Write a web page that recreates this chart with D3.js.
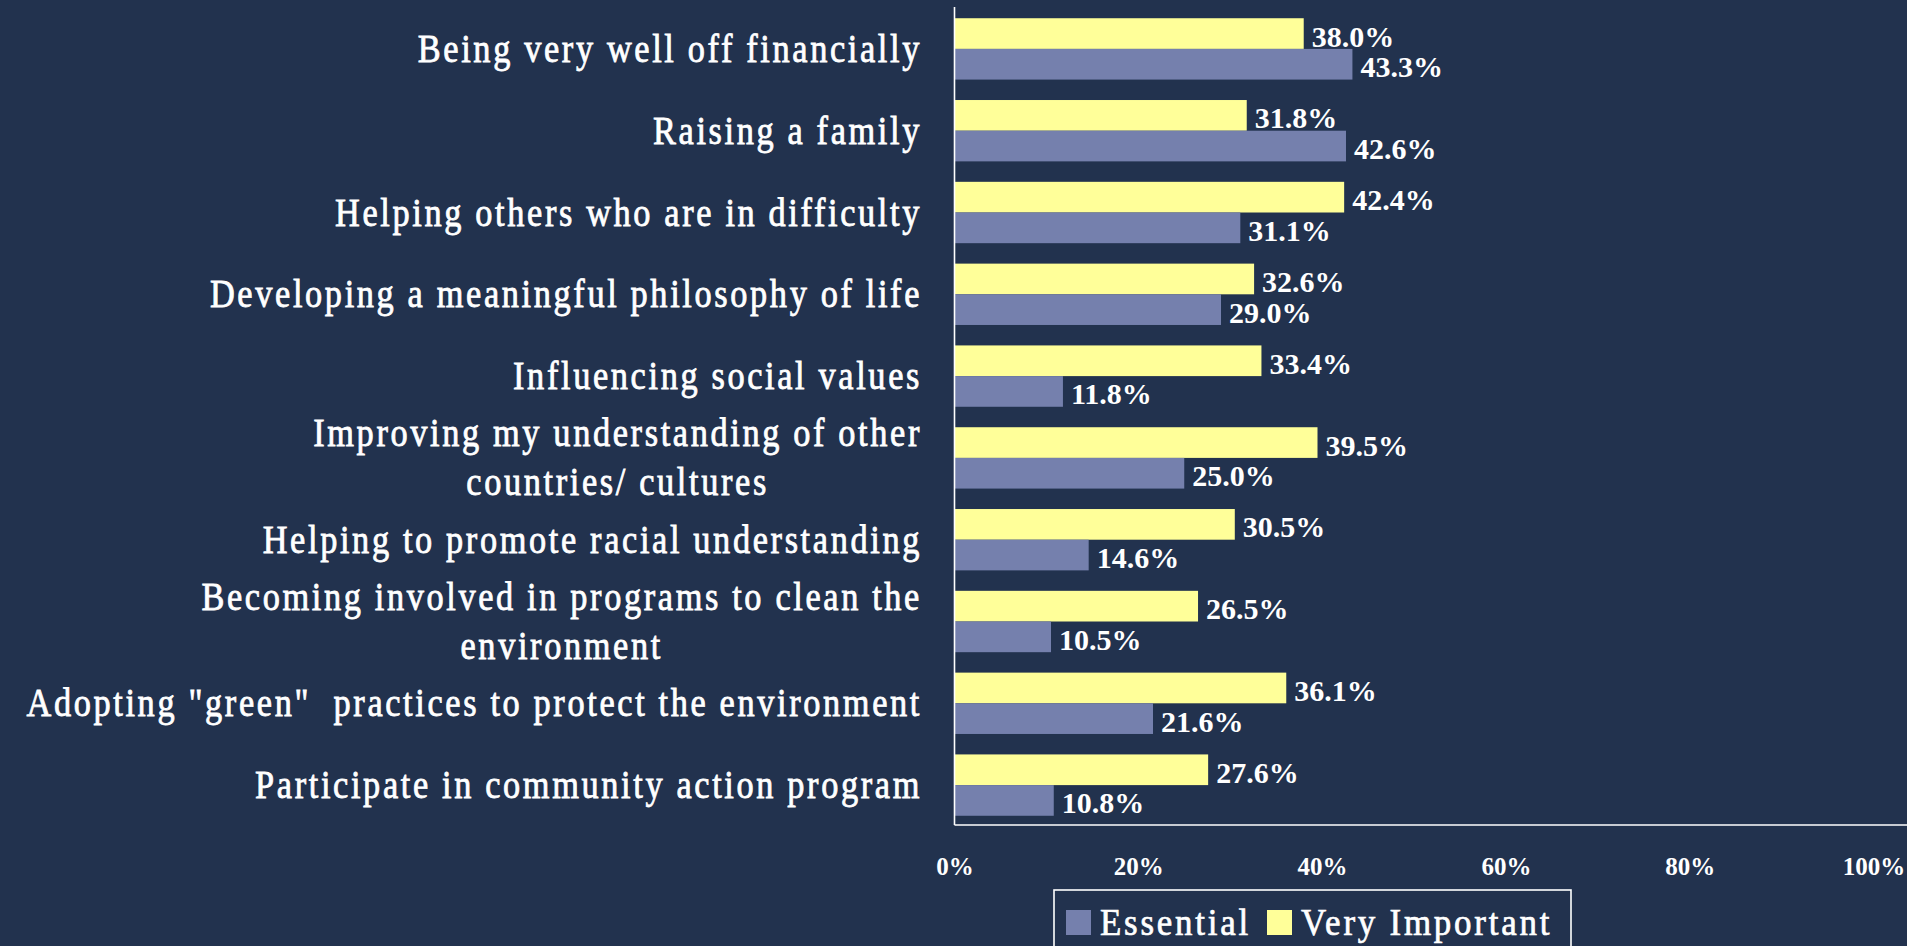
<!DOCTYPE html>
<html>
<head>
<meta charset="utf-8">
<script src="https://cdn.jsdelivr.net/npm/d3@7"></script>
<style>
  html, body { margin: 0; padding: 0; background: #22324e; overflow: hidden; }
  svg { display: block; }
  text.cat { white-space: pre; }
</style>
</head>
<body>
<svg id="chart" width="1907" height="946"></svg>
<script>
// Life goals: share of respondents rating each goal "Essential" / "Very Important"
const categories = [
  "Being very well off financially",
  "Raising a family",
  "Helping others who are in difficulty",
  "Developing a meaningful philosophy of life",
  "Influencing social values",
  "Improving my understanding of other\ncountries/ cultures",
  "Helping to promote racial understanding",
  "Becoming involved in programs to clean the\nenvironment",
  "Adopting \"green\"  practices to protect the environment",
  "Participate in community action program"
];
const veryImportant = [38.0, 31.8, 42.4, 32.6, 33.4, 39.5, 30.5, 26.5, 36.1, 27.6];
const essential     = [43.3, 42.6, 31.1, 29.0, 11.8, 25.0, 14.6, 10.5, 21.6, 10.8];
const xTicks = [0, 20, 40, 60, 80, 100];
const seriesNames = ["Very Important", "Essential"];
const legendOrder = ["Essential", "Very Important"];

const colors = { "Very Important": "#ffff99", "Essential": "#7580ad" };
const serif = "'Liberation Serif', 'Times New Roman', serif";

const svg = d3.select("#chart");
const W = 1907, H = 946;
const plot = { left: 954.5, right: 1873.5, top: 8, bottom: 826 };
const axisY = 825;

const rows = categories.map((c, i) => ({
  name: c,
  values: { "Very Important": veryImportant[i], "Essential": essential[i] }
}));

const x = d3.scaleLinear().domain([0, 100]).range([plot.left, plot.right]);
const y = d3.scaleBand().domain(categories).range([plot.top, plot.bottom])
  .paddingInner(0.25).paddingOuter(0.125);
const ySub = d3.scaleBand().domain(seriesNames).range([0, y.bandwidth()]);

// bars
const groups = svg.append("g").selectAll("g").data(rows).join("g")
  .attr("transform", d => `translate(0,${y(d.name)})`);

groups.selectAll("rect").data(d => seriesNames.map(s => ({ s, v: d.values[s] })))
  .join("rect")
  .attr("x", x(0))
  .attr("y", d => ySub(d.s))
  .attr("width", d => x(d.v) - x(0))
  .attr("height", ySub.bandwidth())
  .attr("fill", d => colors[d.s]);

// value labels
groups.selectAll("text.val").data(d => seriesNames.map(s => ({ s, v: d.values[s] })))
  .join("text")
  .attr("class", "val")
  .attr("x", d => x(d.v) + 8)
  .attr("y", d => ySub(d.s) + ySub.bandwidth() / 2 + 13)
  .attr("fill", "#ffffff")
  .attr("font-family", serif)
  .attr("font-weight", "bold")
  .attr("font-size", 30)
  .text(d => d.v.toFixed(1) + "%");

// axes lines
svg.append("line")
  .attr("x1", x(0)).attr("x2", x(0))
  .attr("y1", 7).attr("y2", axisY)
  .attr("stroke", "#ffffff").attr("stroke-width", 1.6);
svg.append("line")
  .attr("x1", x(0)).attr("x2", W)
  .attr("y1", axisY).attr("y2", axisY)
  .attr("stroke", "#ffffff").attr("stroke-width", 1.6);

// x tick labels
const xAxis = d3.axisBottom(x).tickValues(xTicks).tickSize(0).tickPadding(0)
  .tickFormat(d => d + "%");
const xg = svg.append("g").attr("transform", `translate(0,${axisY})`).call(xAxis);
xg.select(".domain").remove();
xg.selectAll("text")
  .attr("y", 50).attr("dy", null)
  .attr("fill", "#ffffff")
  .attr("font-family", serif)
  .attr("font-weight", "bold")
  .attr("font-size", 25);

// category labels (condensed serif, multi-line blocks centred on themselves, right aligned)
const labelRight = 922;
const sx = 0.88;
const lineGap = 49;
rows.forEach(r => {
  const lines = r.name.split("\n");
  const cy = y(r.name) + y.bandwidth() / 2;
  const g = svg.append("g")
    .attr("transform", `translate(${labelRight},${cy}) scale(${sx},1)`);
  const texts = lines.map((ln, k) => g.append("text")
    .attr("class", "cat")
    .attr("y", (k - (lines.length - 1) / 2) * lineGap + 13)
    .attr("fill", "#ffffff")
    .attr("stroke", "#ffffff")
    .attr("stroke-width", 0.8)
    .attr("font-family", serif)
    .attr("font-size", 39)
    .attr("letter-spacing", 3)
    .attr("text-anchor", "middle")
    .text(ln));
  const maxW = d3.max(texts, t => t.node().getComputedTextLength());
  texts.forEach(t => t.attr("x", -maxW / 2));
});

// legend
const lg = svg.append("g");
lg.append("rect")
  .attr("x", 1054).attr("y", 890)
  .attr("width", 517).attr("height", 80)
  .attr("fill", "none").attr("stroke", "#ffffff").attr("stroke-width", 1.6);
const legendX = { "Essential": 1066, "Very Important": 1267 };
legendOrder.forEach(name => {
  lg.append("rect")
    .attr("x", legendX[name]).attr("y", 910)
    .attr("width", 25).attr("height", 25)
    .attr("fill", colors[name]);
  lg.append("g")
    .attr("transform", `translate(${legendX[name] + 34},935) scale(0.92,1)`)
    .append("text")
    .attr("fill", "#ffffff")
    .attr("stroke", "#ffffff")
    .attr("stroke-width", 0.7)
    .attr("font-family", serif)
    .attr("font-size", 38)
    .attr("letter-spacing", 3)
    .text(name);
});
</script>
</body>
</html>
